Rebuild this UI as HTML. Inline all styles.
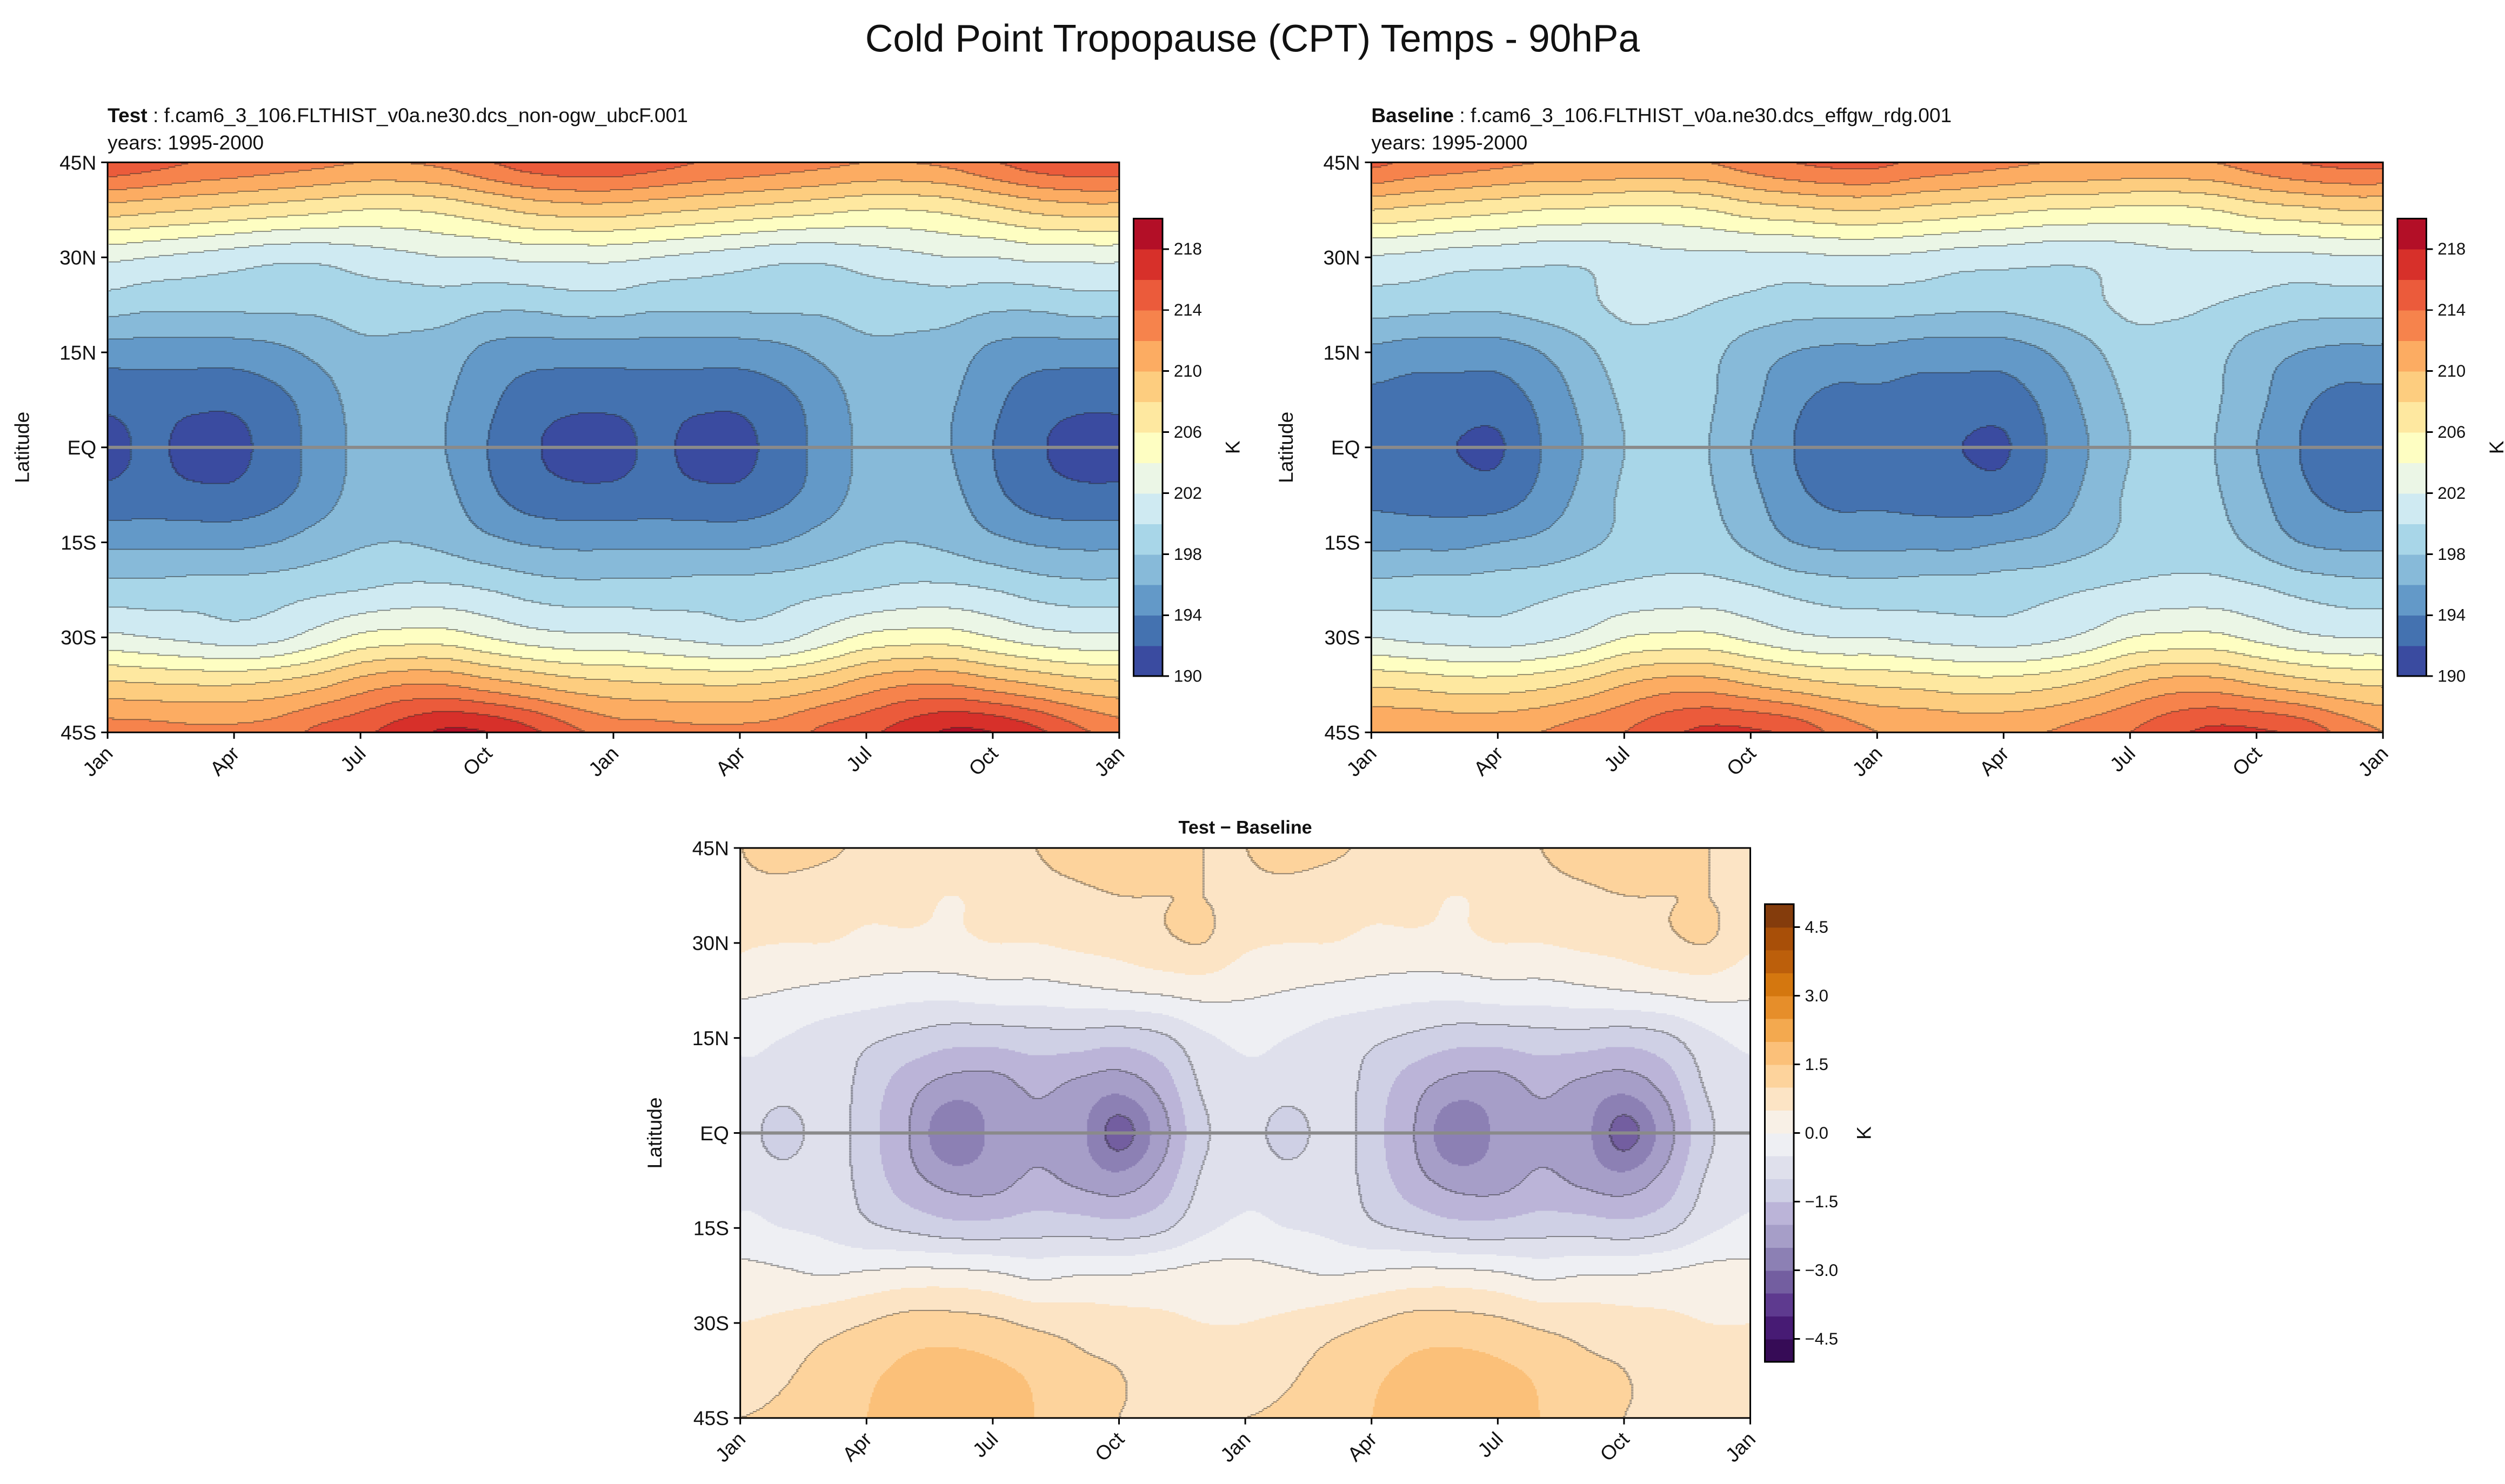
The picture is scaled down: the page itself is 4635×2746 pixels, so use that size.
<!DOCTYPE html>
<html><head><meta charset="utf-8">
<style>
html,body{margin:0;padding:0;background:#fff;}
svg{display:block;font-family:"Liberation Sans","DejaVu Sans",sans-serif;}
</style></head>
<body>
<svg id="fig" xmlns="http://www.w3.org/2000/svg" width="4635" height="2746" viewBox="0 0 1560 924">
<rect x="0" y="0" width="1560" height="924" fill="#fff"/>
<text x="780" y="32" font-size="24" text-anchor="middle" fill="#111">Cold Point Tropopause (CPT) Temps - 90hPa</text>
<g id="panels"></g>
</svg>
<script>
const monthLabels=["Jan","Apr","Jul","Oct","Jan","Apr","Jul","Oct","Jan"];
const latLabels=["45N","30N","15N","EQ","15S","30S","45S"];
const latRows=[45,37.5,30,22.5,15,7.5,0,-7.5,-15,-22.5,-30,-37.5,-45];
const testVals=[
[215.5,214.8,214,213.5,213,212.5,212,212,212.5,213.8,215,215.5],
[209,208.5,208,207.5,207,206.5,206,206,206.5,207.5,208.5,209],
[202.5,202,201.5,201,200.5,200.5,201,201.5,202,202,202.5,202.5],
[199,198.5,198.5,198.5,198.5,198.5,199,199,199,198.5,198.5,199],
[195,195,195,195,195.5,196.5,197.5,197.5,197,195.5,195,195],
[192.5,192.8,192.5,192.5,193.5,195,196.8,197,196.2,194.5,193,192.5],
[191.5,192.3,191.5,191.5,193,194.8,196.5,197,196,194,192.3,191.5],
[192.5,192.8,192.5,192.5,193.5,195,196.8,197.2,196.5,194.5,193,192.5],
[195.5,195.5,195.5,195.5,196,197,197.8,198,197.5,196.5,195.8,195.5],
[198.8,198.8,199,199,199.2,199.6,200,200.5,200.5,200,199.2,198.8],
[202.5,202,201.5,201,201.5,203,204.5,205,205,204,203,202.5],
[208.5,208.2,208,208,208.5,209.5,211,212,212,211,210,209],
[213,212.8,212.5,212.5,213,214.5,215.5,217,218.3,218,216.5,214.5]];
const baseVals=[
[214.5,213.5,213,212.5,212,212,211.8,211.8,212,213,214,214.5],
[208,207.5,207,206.5,206,205.8,205.5,205.5,206,207,207.5,208],
[201.8,201.5,201,200.8,200.5,200.5,201,201.5,201.5,201.5,201.5,201.8],
[199,198.8,198.5,198.5,199,199.5,200.5,200.5,200,199.5,199,199],
[195.5,195,195,195,196,197.5,199,199,198.5,197,196,195.5],
[193.5,193.2,193,193,194.5,196.5,198.3,198.8,198.2,196.5,194.5,193.5],
[193,192.8,192,191.8,194,196,198,198.5,198,196,194,193],
[193.5,193.2,193,193,194.5,196.5,198.3,198.8,198.2,196.5,194.5,193.5],
[195.5,195.5,195.5,196,196.5,197.5,198.5,199,198.8,197.5,196,195.5],
[198.8,199,199,199.2,199.5,200,200.5,200.8,200.8,200.3,199.5,199],
[202,201.5,201.2,201,201.5,202.5,204,204.5,204.5,203.5,202.5,202],
[207.8,207.5,207,207,207.5,208.5,210,211,211,210,209,208.2],
[212,211.8,211.5,211.5,212,213,214,215.5,216.5,216.3,215.5,213.5]];
const diffVals=[
[1.0,1.2,1.1,0.9,0.8,0.7,0.8,1.0,1.2,1.3,1.1,1.0],
[0.9,0.8,0.7,0.6,0.6,0.5,0.6,0.8,0.9,1.0,1.0,1.0],
[0.6,0.5,0.5,0.4,0.4,0.4,0.5,0.5,0.6,0.7,0.9,1.0],
[0.1,0.0,-0.1,-0.2,-0.3,-0.3,-0.2,-0.2,-0.1,0.0,0.1,0.2],
[-0.4,-0.5,-0.7,-0.9,-1.1,-1.3,-1.3,-1.2,-1.2,-1.3,-1.1,-0.6],
[-0.6,-0.7,-0.7,-1.2,-1.8,-2.2,-2.2,-1.9,-2.1,-2.3,-1.8,-0.9],
[-0.7,-1.3,-0.7,-1.3,-2.0,-2.9,-2.4,-2.1,-2.3,-3.2,-2.2,-1.1],
[-0.6,-0.7,-0.7,-1.2,-1.8,-2.2,-2.2,-1.9,-2.1,-2.3,-1.8,-0.9],
[-0.4,-0.5,-0.6,-0.9,-1.1,-1.3,-1.3,-1.2,-1.2,-1.3,-1.1,-0.6],
[0.2,0.1,0.0,0.1,0.2,0.2,0.1,-0.1,0.0,0.0,0.1,0.2],
[0.5,0.6,0.8,1.0,1.2,1.2,1.1,0.9,0.8,0.7,0.6,0.5],
[0.7,0.9,1.2,1.4,1.6,1.7,1.6,1.4,1.1,1.0,0.8,0.7],
[1.0,1.1,1.3,1.5,1.7,2.0,1.8,1.5,1.1,1.0,1.0,1.0]];
const tempTicks=[190,194,198,202,206,210,214,218];
const diffTicks=["4.5","3.0","1.5","0.0","\u22121.5","\u22123.0","\u22124.5"];
const diffTickVals=[4.5,3,1.5,0,-1.5,-3,-4.5];

const tempColors=["#3a4ba0","#4472b0","#6399c8","#87bad9","#a8d6e8","#cfeaf2","#ebf6e6","#fefec2","#fee8a0","#fdcd7f","#fcac62","#f6834c","#eb5b3b","#d7302a","#b30f27"];
const diffColors=["#360b56","#471b74","#5e3a8f","#735ea0","#8c80b4","#a69ec8","#bbb4d8","#cfd0e5","#dfe0ec","#eeeff3","#f8f0e6","#fce4c5","#fdd39c","#fbc079","#f3a94f","#e68e2a","#d4770f","#bc5f0b","#a84f08","#843c0c"];

const NS="http://www.w3.org/2000/svg";
const root=document.getElementById('panels');
function mk(tag,attrs,parent){const e=document.createElementNS(NS,tag);for(const k in attrs)e.setAttribute(k,attrs[k]);(parent||root).appendChild(e);return e;}
function cr(p0,p1,p2,p3,t){return 0.5*((2*p1)+(-p0+p2)*t+(2*p0-5*p1+4*p2-p3)*t*t+(-p0+3*p1-3*p2+p3)*t*t*t);}
function sample(grid,m,lat){
  const r=(45-lat)/7.5; const n=grid.length;
  const ri=Math.min(Math.floor(r),n-2); const rt=r-ri;
  const mi=Math.floor(m); const mt=m-mi;
  const rowv=[];
  for(let k=-1;k<=2;k++){
    const rr=Math.max(0,Math.min(n-1,ri+k)); const row=grid[rr];
    const g=j=>row[((j%12)+12)%12];
    rowv.push(cr(g(mi-1),g(mi),g(mi+1),g(mi+2),mt));
  }
  return cr(rowv[0],rowv[1],rowv[2],rowv[3],rt);
}
function xScale(x0,w,m){return x0+w*m/24;}
function yScale(y0,h,lat){return y0+h*(45-lat)/90;}

function panel(opt){
  const {x0,y0,w,h,grid,colors,vmin,step,name,lineStep}=opt;
  const g=mk('g',{});
  
  
  const fg=mk('g',{'shape-rendering':'crispEdges'},g);
  
  
  const nb=colors.length;
  const vals=[];
  for(let py=0;py<h;py++){
    const lat=45-90*(py+0.5)/h; const row=new Float64Array(w);
    for(let px=0;px<w;px++){row[px]=sample(grid,24*(px+0.5)/w,lat);}
    vals.push(row);
  }
  for(let py=0;py<h;py++){
    let start=0,cur=-1;
    for(let px=0;px<=w;px++){
      let idx=-2;
      if(px<w){idx=Math.max(0,Math.min(nb-1,Math.floor((vals[py][px]-vmin)/step)));}
      if(idx!==cur){
        if(cur>=0){const r=mk('rect',{x:x0+start,y:y0+py,width:px-start,height:1.02,fill:colors[cur]},fg);
          
          }
        cur=idx;start=px;
      }
    }
  }
  // contour lines
  const lg=mk('g',{fill:'rgba(40,40,40,0.55)'},g);
  
  
  const li=(py,px)=>Math.floor((vals[py][px]-opt.lineBase)/lineStep);
  for(let py=1;py<h;py++){
    let s=-1;
    for(let px=1;px<=w;px++){
      let b=false;
      if(px<w){const a=li(py,px);b=(a!==li(py-1,px))||(a!==li(py,px-1));}
      if(b&&s<0)s=px;
      if(!b&&s>=0){mk('rect',{x:x0+s-0.2,y:y0+py-0.3,width:px-s+0.4,height:0.6},lg);s=-1;}
    }
  }
  const eq=mk('line',{x1:x0,x2:x0+w,y1:yScale(y0,h,0),y2:yScale(y0,h,0),stroke:'#8a8a8a','stroke-width':2},g);
  
  
  const fr=mk('rect',{x:x0,y:y0,width:w,height:h,fill:'none',stroke:'#000','stroke-width':1},g);
  
  
  latLabels.forEach((lb,i)=>{
    const y=y0+h*i/6;
    mk('line',{x1:x0-4,x2:x0,y1:y,y2:y,stroke:'#000','stroke-width':1},g);
    const t=mk('text',{x:x0-7,y:y+4.5,'font-size':12.5,'text-anchor':'end',fill:'#111'},g);
    t.textContent=lb;
    
    
  });
  monthLabels.forEach((lb,i)=>{
    const x=xScale(x0,w,i*3);
    mk('line',{x1:x,x2:x,y1:y0+h,y2:y0+h+4,stroke:'#000','stroke-width':1},g);
    const t=mk('text',{x:x+4,y:y0+h+14,'font-size':12.5,'text-anchor':'end',fill:'#111',transform:`rotate(-45 ${x+4} ${y0+h+14})`},g);
    t.textContent=lb;
    
    
  });
  const yl=mk('text',{x:x0-49,y:y0+h/2,'font-size':12.5,'text-anchor':'middle',fill:'#111',transform:`rotate(-90 ${x0-49} ${y0+h/2})`},g);
  yl.textContent='Latitude';
  
  
  const cx=x0+w+9,cy=opt.cbTop,cw=18,chh=opt.cbH;
  const cb=mk('g',{'shape-rendering':'crispEdges'},g);
  
  
  const bh=chh/nb;
  colors.forEach((c,i)=>{mk('rect',{x:cx,y:cy+chh-(i+1)*bh,width:cw,height:bh+0.3,fill:c},cb);});
  mk('rect',{x:cx,y:cy,width:cw,height:chh,fill:'none',stroke:'#000','stroke-width':1},cb);
  opt.ticks.forEach((lb,i)=>{
    const v=opt.tickVals[i];const y=cy+chh-(v-vmin)/step*bh;
    mk('line',{x1:cx+cw,x2:cx+cw+4,y1:y,y2:y,stroke:'#000','stroke-width':1},cb);
    const t=mk('text',{x:cx+cw+7,y:y+3.5,'font-size':10.5,fill:'#111'},cb);
    t.textContent=lb;
    
    
  });
  const kx=cx+cw+opt.kOff;
  const k=mk('text',{x:kx,y:cy+chh/2+4,'font-size':12.5,'text-anchor':'middle',fill:'#111',transform:`rotate(-90 ${kx} ${cy+chh/2})`},cb);
  k.textContent='K';
  
  
}
panel({x0:67,y0:101,w:630,h:355,grid:testVals,colors:tempColors,vmin:190,step:2,lineStep:2,lineBase:190,name:'test',cbTop:136,cbH:285,ticks:tempTicks.map(String),tickVals:tempTicks,kOff:44});
panel({x0:854,y0:101,w:630,h:355,grid:baseVals,colors:tempColors,vmin:190,step:2,lineStep:2,lineBase:190,name:'baseline',cbTop:136,cbH:285,ticks:tempTicks.map(String),tickVals:tempTicks,kOff:44});
panel({x0:461,y0:528,w:629,h:355,grid:diffVals,colors:diffColors,vmin:-5,step:0.5,lineStep:1,lineBase:0,name:'difference',cbTop:563,cbH:285,ticks:diffTicks,tickVals:diffTickVals,kOff:44});

function title(x,y,bold,rest,nm){
  const t=mk('text',{x:x,y:y,'font-size':12.5,fill:'#111'});
  
  
  const b=mk('tspan',{'font-weight':'bold'},t);b.textContent=bold;
  const r=mk('tspan',{},t);r.textContent=rest;
}
title(67,76,'Test',' : f.cam6_3_106.FLTHIST_v0a.ne30.dcs_non-ogw_ubcF.001','test-title');
title(854,76,'Baseline',' : f.cam6_3_106.FLTHIST_v0a.ne30.dcs_effgw_rdg.001','baseline-title');
[[67,'test-years'],[854,'baseline-years']].forEach(([x,n])=>{
  const t=mk('text',{x:x,y:93,'font-size':12.5,fill:'#111'});
  t.textContent='years: 1995-2000';
  
  
});
const dt=mk('text',{x:775.5,y:519,'font-size':11.5,'font-weight':'bold','text-anchor':'middle',fill:'#111'});
dt.textContent='Test \u2212 Baseline';


</script>
</body></html>
